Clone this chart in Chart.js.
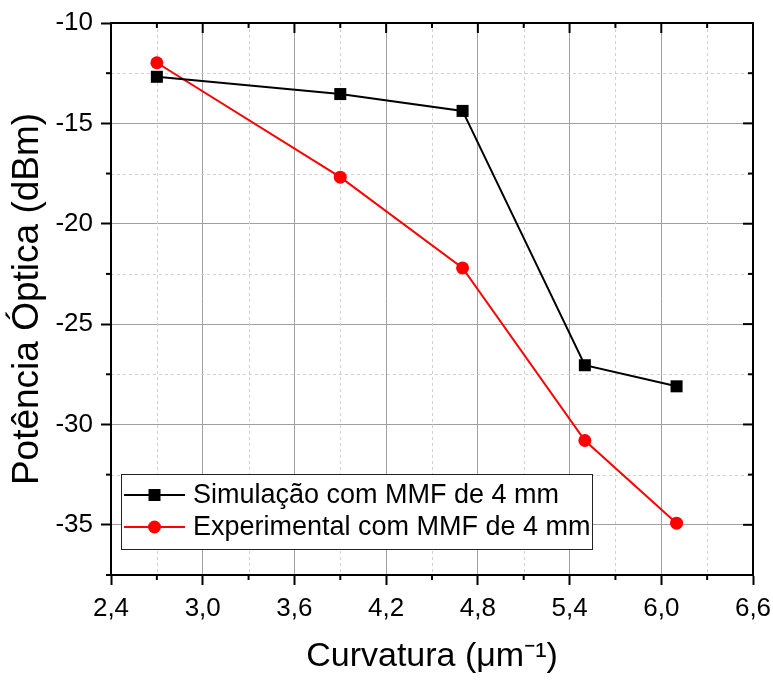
<!DOCTYPE html>
<html>
<head>
<meta charset="utf-8">
<script src="https://cdn.jsdelivr.net/npm/chart.js@4"></script>
<style>
  html, body { margin: 0; padding: 0; background: #fff; }
  #wrap { width: 773px; height: 681px; }
</style>
</head>
<body>
<div id="wrap"><canvas id="curvChart" width="773" height="681"></canvas></div>
<script>
// dados
const curvatura = [2.7, 3.9, 4.7, 5.5, 6.1];
const simulacao = [-12.68, -13.54, -14.38, -27.05, -28.1];
const experimental = [-11.98, -17.68, -22.2, -30.8, -34.92];

const xTicks = [2.4, 3.0, 3.6, 4.2, 4.8, 5.4, 6.0, 6.6];
const xMinor = [2.7, 3.3, 3.9, 4.5, 5.1, 5.7, 6.3];
const yTicks = [-35, -30, -25, -20, -15, -10];
const yMinor = [-37.5, -32.5, -27.5, -22.5, -17.5, -12.5];

const serieNomes = ["Simulação com MMF de 4 mm", "Experimental com MMF de 4 mm"];
const FONT = "'Liberation Sans', Arial, sans-serif";

// grade secundária tracejada + moldura + marcas de escala
const framePlugin = {
  id: "frame",
  beforeDatasetsDraw(chart) {
    const { ctx, chartArea: a, scales } = chart;
    ctx.save();
    ctx.strokeStyle = "#d0d0d0";
    ctx.lineWidth = 1;
    ctx.setLineDash([3, 3]);
    xMinor.forEach(v => {
      const px = Math.round(scales.x.getPixelForValue(v)) + 0.5;
      ctx.beginPath(); ctx.moveTo(px, a.top); ctx.lineTo(px, a.bottom); ctx.stroke();
    });
    yMinor.forEach(v => {
      const py = Math.round(scales.y.getPixelForValue(v)) + 0.5;
      ctx.beginPath(); ctx.moveTo(a.left, py); ctx.lineTo(a.right, py); ctx.stroke();
    });
    ctx.restore();
  },
  afterDatasetsDraw(chart) {
    const { ctx, chartArea: a, scales } = chart;
    ctx.save();
    ctx.strokeStyle = "#000";
    ctx.lineWidth = 2;
    ctx.setLineDash([]);
    ctx.strokeRect(a.left, a.top, a.right - a.left, a.bottom - a.top);
    const seg = (x1, y1, x2, y2) => { ctx.beginPath(); ctx.moveTo(x1, y1); ctx.lineTo(x2, y2); ctx.stroke(); };
    // marcas principais espelhadas (para dentro)
    xTicks.forEach(v => {
      const px = scales.x.getPixelForValue(v);
      seg(px, a.top, px, a.top + 10);
    });
    yTicks.forEach(v => {
      const py = scales.y.getPixelForValue(v);
      seg(a.right, py, a.right - 10, py);
    });
    // marcas secundárias
    xMinor.forEach(v => {
      const px = scales.x.getPixelForValue(v);
      seg(px, a.bottom, px, a.bottom + 5);
      seg(px, a.top, px, a.top + 5);
    });
    yMinor.forEach(v => {
      const py = scales.y.getPixelForValue(v);
      seg(a.left, py, a.left - 5, py);
      seg(a.right, py, a.right - 5, py);
    });
    ctx.restore();
  },
  afterDraw(chart) {
    // legenda dentro da área do gráfico
    const { ctx, chartArea: a } = chart;
    const bx = a.left + 10, by = 474, bw = 471, bh = 75;
    ctx.save();
    ctx.fillStyle = "#fff";
    ctx.fillRect(bx, by, bw, bh);
    ctx.strokeStyle = "#222";
    ctx.lineWidth = 1;
    ctx.strokeRect(bx + 0.5, by + 0.5, bw, bh);
    ctx.font = "27px " + FONT;
    ctx.textBaseline = "middle";
    chart.data.datasets.forEach((ds, i) => {
      const cy = by + 21 + i * 32;
      ctx.strokeStyle = ds.borderColor;
      ctx.lineWidth = 2;
      ctx.beginPath(); ctx.moveTo(bx + 3, cy); ctx.lineTo(bx + 64, cy); ctx.stroke();
      ctx.fillStyle = ds.backgroundColor;
      if (ds.pointStyle === "rect") {
        ctx.fillRect(bx + 27.5, cy - 6, 12, 12);
      } else {
        ctx.beginPath(); ctx.arc(bx + 33.5, cy, 6.5, 0, Math.PI * 2); ctx.fill();
      }
      ctx.fillStyle = "#000";
      ctx.fillText(ds.label, bx + 72, cy + 1);
    });
    ctx.restore();
  }
};

new Chart(document.getElementById("curvChart"), {
  type: "line",
  data: {
    datasets: [
      {
        label: serieNomes[0],
        data: curvatura.map((x, i) => ({ x, y: simulacao[i] })),
        borderColor: "#000",
        backgroundColor: "#000",
        borderWidth: 2,
        pointStyle: "rect",
        pointRadius: 8.5,
        pointBorderWidth: 0,
        tension: 0
      },
      {
        label: serieNomes[1],
        data: curvatura.map((x, i) => ({ x, y: experimental[i] })),
        borderColor: "#ff0000",
        backgroundColor: "#ff0000",
        borderWidth: 2,
        pointStyle: "circle",
        pointRadius: 6.5,
        pointBorderWidth: 0,
        tension: 0
      }
    ]
  },
  options: {
    responsive: false,
    animation: false,
    layout: { padding: { top: 23, right: 20, left: 0, bottom: 0 } },
    plugins: {
      legend: { display: false },
      tooltip: { enabled: false }
    },
    scales: {
      x: {
        type: "linear",
        min: 2.4,
        max: 6.6,
        afterBuildTicks: s => { s.ticks = xTicks.map(v => ({ value: v })); },
        afterFit: s => { s.height = 106; s.paddingLeft = 0; s.paddingRight = 0; },
        ticks: {
          color: "#000",
          font: { family: FONT, size: 26 },
          padding: 8,
          maxRotation: 0,
          callback: v => Number(v).toFixed(1).replace(".", ",")
        },
        grid: { color: "#a0a0a0", lineWidth: 1, tickColor: "#000", tickWidth: 2, tickLength: 10 },
        border: { display: true, color: "#000", width: 2 },
        title: {
          display: true,
          text: "Curvatura (μm⁻¹)",
          color: "#000",
          font: { family: FONT, size: 34 },
          padding: { top: 15 }
        }
      },
      y: {
        type: "linear",
        min: -37.5,
        max: -10,
        afterBuildTicks: s => { s.ticks = yTicks.map(v => ({ value: v })); },
        afterFit: s => { s.width = 111; s.paddingTop = 0; s.paddingBottom = 0; },
        ticks: {
          color: "#000",
          font: { family: FONT, size: 26 },
          padding: 8,
          callback: v => String(v)
        },
        grid: { color: "#a0a0a0", lineWidth: 1, tickColor: "#000", tickWidth: 2, tickLength: 10 },
        border: { display: true, color: "#000", width: 2 },
        title: {
          display: true,
          text: "Potência Óptica (dBm)",
          color: "#000",
          font: { family: FONT, size: 37 },
          padding: { top: 6, bottom: 2 }
        }
      }
    }
  },
  plugins: [framePlugin]
});
</script>
</body>
</html>
